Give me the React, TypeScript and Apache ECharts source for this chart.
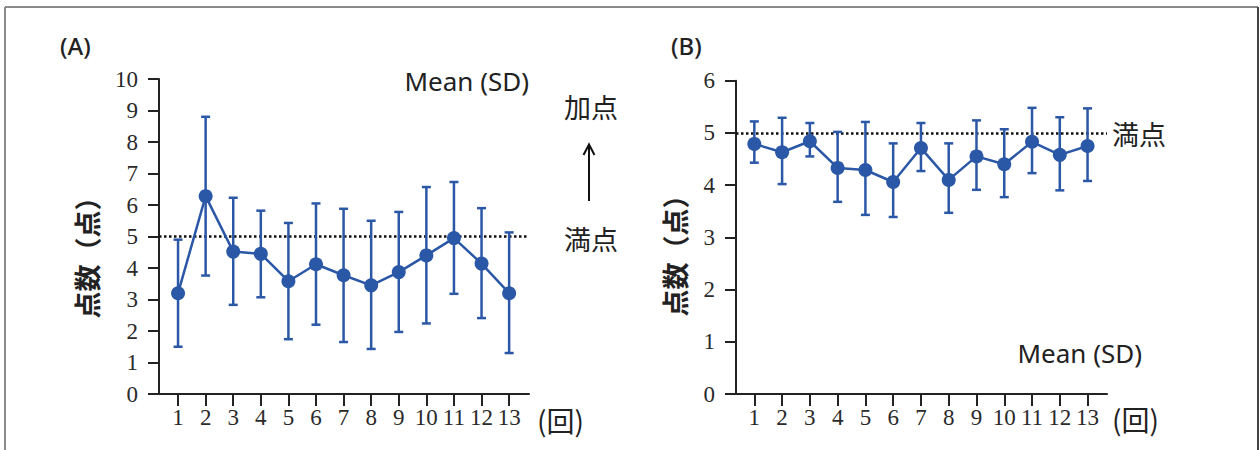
import React, { useEffect, useRef } from "react";
import * as echarts from "echarts";

const categories = [1, 2, 3, 4, 5, 6, 7, 8, 9, 10, 11, 12, 13];

const meanA = [3.2, 6.28, 4.52, 4.45, 3.58, 4.12, 3.77, 3.45, 3.87, 4.4, 4.95, 4.14, 3.2];
const highA = [4.9, 8.8, 6.23, 5.82, 5.43, 6.05, 5.88, 5.5, 5.78, 6.57, 6.73, 5.9, 5.13];
const lowA = [1.5, 3.76, 2.83, 3.07, 1.74, 2.2, 1.65, 1.43, 1.97, 2.24, 3.18, 2.41, 1.3];

const meanB = [4.79, 4.63, 4.84, 4.33, 4.29, 4.06, 4.71, 4.1, 4.55, 4.4, 4.83, 4.58, 4.75];
const highB = [5.22, 5.29, 5.19, 5.02, 5.21, 4.8, 5.19, 4.8, 5.24, 5.07, 5.48, 5.3, 5.47];
const lowB = [4.43, 4.02, 4.55, 3.68, 3.43, 3.39, 4.27, 3.47, 3.91, 3.77, 4.23, 3.9, 4.08];

const fullScoreA = 5;
const fullScoreB = 5;
const yTicksA = { min: 0, max: 10, interval: 1 };
const yTicksB = { min: 0, max: 6, interval: 1 };

const BLUE = "#2b57a7";
const AXIS = "#222";
const CJK = "'Noto Sans CJK JP', 'Noto Sans', sans-serif";
const SERIF = "'Liberation Serif', 'DejaVu Serif', serif";

function errorRender(params: any, api: any) {
  const x = api.value(0);
  const lo = api.value(1);
  const hi = api.value(2);
  const pHi = api.coord([x, hi]);
  const pLo = api.coord([x, lo]);
  const hw = 4.5;
  const style = { stroke: BLUE, lineWidth: 2.5 };
  return {
    type: "group",
    children: [
      { type: "line", shape: { x1: pHi[0], y1: pHi[1], x2: pLo[0], y2: pLo[1] }, style },
      { type: "line", shape: { x1: pHi[0] - hw, y1: pHi[1], x2: pHi[0] + hw, y2: pHi[1] }, style },
      { type: "line", shape: { x1: pLo[0] - hw, y1: pLo[1], x2: pLo[0] + hw, y2: pLo[1] }, style },
    ],
  };
}

function xAxisCfg(gridIndex: number, min: number, max: number) {
  return {
    gridIndex,
    type: "value",
    min,
    max,
    axisLine: { show: true, lineStyle: { color: AXIS, width: 2 } },
    axisTick: { show: true, length: 12, lineStyle: { color: AXIS, width: 2 }, customValues: categories },
    axisLabel: { customValues: categories, margin: 12, fontFamily: SERIF, fontSize: 23, color: "#2a2a2a" },
    splitLine: { show: false },
  };
}

function yAxisCfg(gridIndex: number, t: { min: number; max: number; interval: number }) {
  return {
    gridIndex,
    type: "value",
    min: t.min,
    max: t.max,
    interval: t.interval,
    axisLine: { show: true, lineStyle: { color: AXIS, width: 2 } },
    axisTick: { show: true, length: 11, lineStyle: { color: AXIS, width: 2 } },
    axisLabel: { margin: 21, fontFamily: SERIF, fontSize: 23, color: "#2a2a2a" },
    splitLine: { show: false },
  };
}

function seriesFor(idx: number, mean: number[], low: number[], high: number[], full: number) {
  return [
    {
      type: "custom",
      xAxisIndex: idx,
      yAxisIndex: idx,
      renderItem: errorRender,
      data: categories.map((c, i) => [c, low[i], high[i]]),
      encode: { x: 0, y: [1, 2] },
      z: 2,
      silent: true,
    },
    {
      type: "line",
      xAxisIndex: idx,
      yAxisIndex: idx,
      data: categories.map((c, i) => [c, mean[i]]),
      symbol: "circle",
      symbolSize: 14,
      itemStyle: { color: BLUE },
      lineStyle: { color: BLUE, width: 2.5 },
      z: 3,
      markLine: {
        silent: true,
        symbol: ["none", "none"],
        label: { show: false },
        lineStyle: { type: [2.5, 2.5], color: "#111", width: 2.5 },
        data: [{ yAxis: full }],
        z: 1,
      },
    },
  ];
}

export default function App() {
  const ref = useRef<HTMLDivElement>(null);
  useEffect(() => {
    if (!ref.current) return;
    const chart = echarts.init(ref.current, undefined, { renderer: "svg" });
    const txt = (text: string, x: number, y: number, size: number, extra: any = {}) => ({
      type: "text",
      x,
      y,
      style: {
        text,
        fontSize: size,
        fontFamily: CJK,
        fill: "#222",
        align: "left",
        verticalAlign: "middle",
        ...extra,
      },
    });
    chart.setOption({
      animation: false,
      grid: [
        { left: 159, top: 79, width: 370, height: 315 },
        { left: 736, top: 80.7, width: 371, height: 313.3 },
      ],
      xAxis: [xAxisCfg(0, 0.31, 13.72), xAxisCfg(1, 0.34, 13.7)],
      yAxis: [yAxisCfg(0, yTicksA), yAxisCfg(1, yTicksB)],
      series: [
        ...seriesFor(0, meanA, lowA, highA, fullScoreA),
        ...seriesFor(1, meanB, lowB, highB, fullScoreB),
      ],
      graphic: [
        { type: "line", shape: { x1: 5, y1: 7, x2: 1258, y2: 7 }, style: { stroke: "#8a8a8a", lineWidth: 2 } },
        { type: "line", shape: { x1: 5, y1: 7, x2: 5, y2: 450 }, style: { stroke: "#8a8a8a", lineWidth: 2 } },
        { type: "line", shape: { x1: 1258, y1: 7, x2: 1258, y2: 450 }, style: { stroke: "#444", lineWidth: 2 } },
        txt("(A)", 60, 45, 24, { fontFamily: "'Noto Sans', sans-serif", fontWeight: 500 }),
        txt("(B)", 671, 45, 24, { fontFamily: "'Noto Sans', sans-serif", fontWeight: 500 }),
        txt("Mean (SD)", 529, 81, 26, { align: "right", fontFamily: "'Noto Sans', sans-serif" }),
        txt("Mean (SD)", 1142, 353, 26, { align: "right", fontFamily: "'Noto Sans', sans-serif" }),
        txt("加点", 564, 106, 27),
        txt("満点", 564, 238, 27),
        txt("満点", 1112, 133, 27),
        txt("(回)", 537, 420, 28),
        txt("(回)", 1112, 419, 28),
        { type: "line", shape: { x1: 589, y1: 201, x2: 589, y2: 145 }, style: { stroke: "#111", lineWidth: 2 } },
        { type: "polyline", shape: { points: [[583.5, 155], [589, 144.5], [594.5, 155]] }, style: { stroke: "#111", lineWidth: 2, fill: "none" } },
        {
          type: "text",
          x: 86,
          y: 251,
          rotation: Math.PI / 2,
          style: { text: "点数（点）", fontSize: 27, fontWeight: "bold", fontFamily: CJK, fill: "#222", align: "center", verticalAlign: "middle" },
        },
        {
          type: "text",
          x: 674,
          y: 249,
          rotation: Math.PI / 2,
          style: { text: "点数（点）", fontSize: 27, fontWeight: "bold", fontFamily: CJK, fill: "#222", align: "center", verticalAlign: "middle" },
        },
      ],
    });
    return () => chart.dispose();
  }, []);
  return <div ref={ref} style={{ position: "absolute", left: 0, top: 0, width: 1260, height: 450 }} />;
}
